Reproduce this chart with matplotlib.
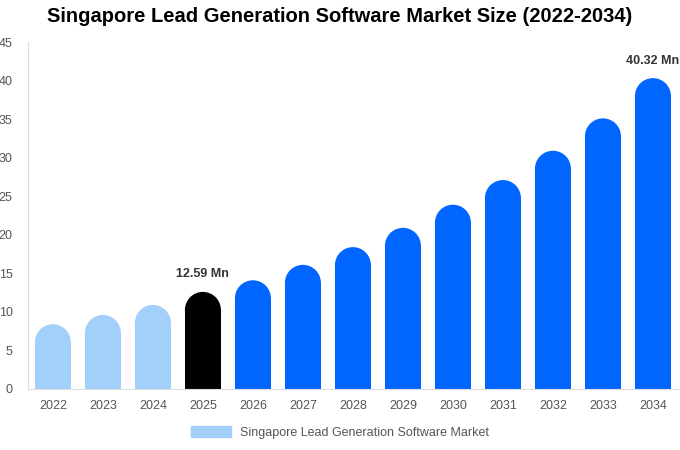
import matplotlib.pyplot as plt
from matplotlib.patches import Ellipse, Patch

plt.rcParams["font.family"] = "Liberation Sans"

years = ["2022", "2023", "2024", "2025", "2026", "2027", "2028",
         "2029", "2030", "2031", "2032", "2033", "2034"]
values = [8.4, 9.6, 10.9, 12.59, 14.1, 16.1, 18.4, 20.9, 23.9, 27.1, 30.9, 35.1, 40.32]
colors = ["#a3cffb"] * 3 + ["#000000"] + ["#0066ff"] * 9
labels = {3: "12.59 Mn", 12: "40.32 Mn"}

fig = plt.figure(figsize=(6.8, 4.5), dpi=100)
ax = fig.add_axes([0.041, 0.1356, 0.956, 0.771])
ax.set_xlim(-0.5, 12.5)
ax.set_ylim(0, 45)

w = 0.72
# cap radius in data units (half bar width in pixels converted to y units)
px_per_x = 650 / 13.0
px_per_y = 347 / 45.0
r = (w / 2 * px_per_x) / px_per_y

for i, v in enumerate(values):
    ax.bar(i, v - r, width=w, color=colors[i], linewidth=0)
    ax.add_patch(Ellipse((i, v - r), w, 2 * r, facecolor=colors[i], edgecolor="none"))
    if i in labels:
        ax.text(i, v + 1.5, labels[i], ha="center", va="bottom",
                fontsize=9, fontweight="bold", color="#333333")

ax.set_xticks(range(len(years)))
ax.set_xticklabels(years)
ax.set_yticks(range(0, 46, 5))
ax.tick_params(length=0, labelsize=9, colors="#555555")
ax.tick_params(axis="y", pad=11)
ax.tick_params(axis="x", pad=8)
for s in ["top", "right"]:
    ax.spines[s].set_visible(False)
ax.spines["left"].set_color("#dddddd")
ax.spines["bottom"].set_color("#dddddd")

fig.suptitle("Singapore Lead Generation Software Market Size (2022-2034)",
             x=0.5, y=0.985, fontsize=14.5, fontweight="bold")

fig.legend(handles=[Patch(color="#a3cffb", label="Singapore Lead Generation Software Market")],
           loc="lower center", bbox_to_anchor=(0.5, 0.0), frameon=False,
           fontsize=9, labelcolor="#555555", handlelength=3.2, handleheight=0.9)

fig.savefig("out.png", dpi=100)
